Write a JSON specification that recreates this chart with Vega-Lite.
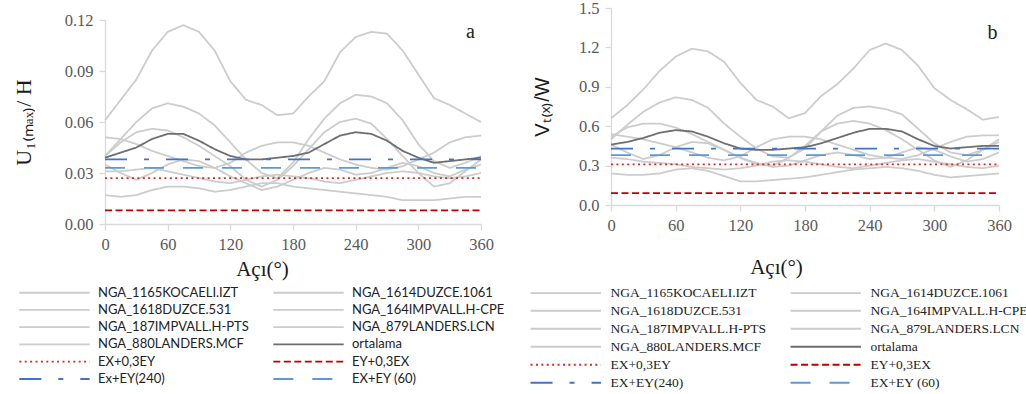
{
"$schema": "https://vega.github.io/schema/vega-lite/v6.json",
"padding": {"left": 12, "top": 0, "right": 0, "bottom": 0},
"background": "white",
"spacing": 27,
"config": {"view": {"stroke": null}, "axis": {"grid": false, "domainColor": "#d9d9d9", "domainWidth": 1.3, "tickColor": "#d9d9d9", "tickWidth": 1.3, "tickSize": 6, "labelFont": "Liberation Serif", "labelFontSize": 16.5, "labelColor": "#595959", "labelPadding": 6, "labelFlush": false, "labelOverlap": false, "titleFontWeight": "normal", "titleColor": "#1a1a1a"}},
"datasets": {
"a": [
{"s":"NGA_1165KOCAELI.IZT","x":0,"y":0.061},{"s":"NGA_1165KOCAELI.IZT","x":15,"y":0.073},{"s":"NGA_1165KOCAELI.IZT","x":30,"y":0.085},{"s":"NGA_1165KOCAELI.IZT","x":45,"y":0.102},{"s":"NGA_1165KOCAELI.IZT","x":60,"y":0.113},{"s":"NGA_1165KOCAELI.IZT","x":75,"y":0.117},{"s":"NGA_1165KOCAELI.IZT","x":90,"y":0.113},{"s":"NGA_1165KOCAELI.IZT","x":105,"y":0.102},{"s":"NGA_1165KOCAELI.IZT","x":120,"y":0.084},{"s":"NGA_1165KOCAELI.IZT","x":135,"y":0.073},{"s":"NGA_1165KOCAELI.IZT","x":150,"y":0.070},{"s":"NGA_1165KOCAELI.IZT","x":165,"y":0.064},{"s":"NGA_1165KOCAELI.IZT","x":180,"y":0.065},{"s":"NGA_1165KOCAELI.IZT","x":195,"y":0.075},{"s":"NGA_1165KOCAELI.IZT","x":210,"y":0.084},{"s":"NGA_1165KOCAELI.IZT","x":225,"y":0.101},{"s":"NGA_1165KOCAELI.IZT","x":240,"y":0.110},{"s":"NGA_1165KOCAELI.IZT","x":255,"y":0.113},{"s":"NGA_1165KOCAELI.IZT","x":270,"y":0.112},{"s":"NGA_1165KOCAELI.IZT","x":285,"y":0.102},{"s":"NGA_1165KOCAELI.IZT","x":300,"y":0.088},{"s":"NGA_1165KOCAELI.IZT","x":315,"y":0.074},{"s":"NGA_1165KOCAELI.IZT","x":330,"y":0.070},{"s":"NGA_1165KOCAELI.IZT","x":345,"y":0.065},{"s":"NGA_1165KOCAELI.IZT","x":360,"y":0.060},
{"s":"NGA_1614DUZCE.1061","x":0,"y":0.040},{"s":"NGA_1614DUZCE.1061","x":15,"y":0.050},{"s":"NGA_1614DUZCE.1061","x":30,"y":0.060},{"s":"NGA_1614DUZCE.1061","x":45,"y":0.068},{"s":"NGA_1614DUZCE.1061","x":60,"y":0.071},{"s":"NGA_1614DUZCE.1061","x":75,"y":0.069},{"s":"NGA_1614DUZCE.1061","x":90,"y":0.065},{"s":"NGA_1614DUZCE.1061","x":105,"y":0.058},{"s":"NGA_1614DUZCE.1061","x":120,"y":0.048},{"s":"NGA_1614DUZCE.1061","x":135,"y":0.038},{"s":"NGA_1614DUZCE.1061","x":150,"y":0.030},{"s":"NGA_1614DUZCE.1061","x":165,"y":0.027},{"s":"NGA_1614DUZCE.1061","x":180,"y":0.036},{"s":"NGA_1614DUZCE.1061","x":195,"y":0.050},{"s":"NGA_1614DUZCE.1061","x":210,"y":0.062},{"s":"NGA_1614DUZCE.1061","x":225,"y":0.071},{"s":"NGA_1614DUZCE.1061","x":240,"y":0.076},{"s":"NGA_1614DUZCE.1061","x":255,"y":0.075},{"s":"NGA_1614DUZCE.1061","x":270,"y":0.071},{"s":"NGA_1614DUZCE.1061","x":285,"y":0.061},{"s":"NGA_1614DUZCE.1061","x":300,"y":0.047},{"s":"NGA_1614DUZCE.1061","x":315,"y":0.037},{"s":"NGA_1614DUZCE.1061","x":330,"y":0.033},{"s":"NGA_1614DUZCE.1061","x":345,"y":0.036},{"s":"NGA_1614DUZCE.1061","x":360,"y":0.040},
{"s":"NGA_1618DUZCE.531","x":0,"y":0.040},{"s":"NGA_1618DUZCE.531","x":15,"y":0.048},{"s":"NGA_1618DUZCE.531","x":30,"y":0.054},{"s":"NGA_1618DUZCE.531","x":45,"y":0.056},{"s":"NGA_1618DUZCE.531","x":60,"y":0.055},{"s":"NGA_1618DUZCE.531","x":75,"y":0.051},{"s":"NGA_1618DUZCE.531","x":90,"y":0.046},{"s":"NGA_1618DUZCE.531","x":105,"y":0.040},{"s":"NGA_1618DUZCE.531","x":120,"y":0.034},{"s":"NGA_1618DUZCE.531","x":135,"y":0.026},{"s":"NGA_1618DUZCE.531","x":150,"y":0.022},{"s":"NGA_1618DUZCE.531","x":165,"y":0.026},{"s":"NGA_1618DUZCE.531","x":180,"y":0.034},{"s":"NGA_1618DUZCE.531","x":195,"y":0.044},{"s":"NGA_1618DUZCE.531","x":210,"y":0.054},{"s":"NGA_1618DUZCE.531","x":225,"y":0.060},{"s":"NGA_1618DUZCE.531","x":240,"y":0.062},{"s":"NGA_1618DUZCE.531","x":255,"y":0.059},{"s":"NGA_1618DUZCE.531","x":270,"y":0.050},{"s":"NGA_1618DUZCE.531","x":285,"y":0.040},{"s":"NGA_1618DUZCE.531","x":300,"y":0.030},{"s":"NGA_1618DUZCE.531","x":315,"y":0.022},{"s":"NGA_1618DUZCE.531","x":330,"y":0.024},{"s":"NGA_1618DUZCE.531","x":345,"y":0.031},{"s":"NGA_1618DUZCE.531","x":360,"y":0.038},
{"s":"NGA_164IMPVALL.H-CPE","x":0,"y":0.051},{"s":"NGA_164IMPVALL.H-CPE","x":15,"y":0.050},{"s":"NGA_164IMPVALL.H-CPE","x":30,"y":0.047},{"s":"NGA_164IMPVALL.H-CPE","x":45,"y":0.043},{"s":"NGA_164IMPVALL.H-CPE","x":60,"y":0.040},{"s":"NGA_164IMPVALL.H-CPE","x":75,"y":0.037},{"s":"NGA_164IMPVALL.H-CPE","x":90,"y":0.034},{"s":"NGA_164IMPVALL.H-CPE","x":105,"y":0.033},{"s":"NGA_164IMPVALL.H-CPE","x":120,"y":0.036},{"s":"NGA_164IMPVALL.H-CPE","x":135,"y":0.042},{"s":"NGA_164IMPVALL.H-CPE","x":150,"y":0.046},{"s":"NGA_164IMPVALL.H-CPE","x":165,"y":0.048},{"s":"NGA_164IMPVALL.H-CPE","x":180,"y":0.048},{"s":"NGA_164IMPVALL.H-CPE","x":195,"y":0.046},{"s":"NGA_164IMPVALL.H-CPE","x":210,"y":0.042},{"s":"NGA_164IMPVALL.H-CPE","x":225,"y":0.038},{"s":"NGA_164IMPVALL.H-CPE","x":240,"y":0.035},{"s":"NGA_164IMPVALL.H-CPE","x":255,"y":0.033},{"s":"NGA_164IMPVALL.H-CPE","x":270,"y":0.032},{"s":"NGA_164IMPVALL.H-CPE","x":285,"y":0.034},{"s":"NGA_164IMPVALL.H-CPE","x":300,"y":0.038},{"s":"NGA_164IMPVALL.H-CPE","x":315,"y":0.042},{"s":"NGA_164IMPVALL.H-CPE","x":330,"y":0.048},{"s":"NGA_164IMPVALL.H-CPE","x":345,"y":0.051},{"s":"NGA_164IMPVALL.H-CPE","x":360,"y":0.052},
{"s":"NGA_187IMPVALL.H-PTS","x":0,"y":0.035},{"s":"NGA_187IMPVALL.H-PTS","x":15,"y":0.030},{"s":"NGA_187IMPVALL.H-PTS","x":30,"y":0.026},{"s":"NGA_187IMPVALL.H-PTS","x":45,"y":0.030},{"s":"NGA_187IMPVALL.H-PTS","x":60,"y":0.035},{"s":"NGA_187IMPVALL.H-PTS","x":75,"y":0.038},{"s":"NGA_187IMPVALL.H-PTS","x":90,"y":0.037},{"s":"NGA_187IMPVALL.H-PTS","x":105,"y":0.033},{"s":"NGA_187IMPVALL.H-PTS","x":120,"y":0.028},{"s":"NGA_187IMPVALL.H-PTS","x":135,"y":0.024},{"s":"NGA_187IMPVALL.H-PTS","x":150,"y":0.020},{"s":"NGA_187IMPVALL.H-PTS","x":165,"y":0.022},{"s":"NGA_187IMPVALL.H-PTS","x":180,"y":0.026},{"s":"NGA_187IMPVALL.H-PTS","x":195,"y":0.030},{"s":"NGA_187IMPVALL.H-PTS","x":210,"y":0.033},{"s":"NGA_187IMPVALL.H-PTS","x":225,"y":0.032},{"s":"NGA_187IMPVALL.H-PTS","x":240,"y":0.029},{"s":"NGA_187IMPVALL.H-PTS","x":255,"y":0.030},{"s":"NGA_187IMPVALL.H-PTS","x":270,"y":0.033},{"s":"NGA_187IMPVALL.H-PTS","x":285,"y":0.036},{"s":"NGA_187IMPVALL.H-PTS","x":300,"y":0.034},{"s":"NGA_187IMPVALL.H-PTS","x":315,"y":0.030},{"s":"NGA_187IMPVALL.H-PTS","x":330,"y":0.028},{"s":"NGA_187IMPVALL.H-PTS","x":345,"y":0.032},{"s":"NGA_187IMPVALL.H-PTS","x":360,"y":0.035},
{"s":"NGA_879LANDERS.LCN","x":0,"y":0.031},{"s":"NGA_879LANDERS.LCN","x":15,"y":0.031},{"s":"NGA_879LANDERS.LCN","x":30,"y":0.032},{"s":"NGA_879LANDERS.LCN","x":45,"y":0.033},{"s":"NGA_879LANDERS.LCN","x":60,"y":0.031},{"s":"NGA_879LANDERS.LCN","x":75,"y":0.029},{"s":"NGA_879LANDERS.LCN","x":90,"y":0.027},{"s":"NGA_879LANDERS.LCN","x":105,"y":0.025},{"s":"NGA_879LANDERS.LCN","x":120,"y":0.024},{"s":"NGA_879LANDERS.LCN","x":135,"y":0.026},{"s":"NGA_879LANDERS.LCN","x":150,"y":0.028},{"s":"NGA_879LANDERS.LCN","x":165,"y":0.029},{"s":"NGA_879LANDERS.LCN","x":180,"y":0.028},{"s":"NGA_879LANDERS.LCN","x":195,"y":0.027},{"s":"NGA_879LANDERS.LCN","x":210,"y":0.025},{"s":"NGA_879LANDERS.LCN","x":225,"y":0.024},{"s":"NGA_879LANDERS.LCN","x":240,"y":0.026},{"s":"NGA_879LANDERS.LCN","x":255,"y":0.028},{"s":"NGA_879LANDERS.LCN","x":270,"y":0.030},{"s":"NGA_879LANDERS.LCN","x":285,"y":0.031},{"s":"NGA_879LANDERS.LCN","x":300,"y":0.030},{"s":"NGA_879LANDERS.LCN","x":315,"y":0.028},{"s":"NGA_879LANDERS.LCN","x":330,"y":0.027},{"s":"NGA_879LANDERS.LCN","x":345,"y":0.028},{"s":"NGA_879LANDERS.LCN","x":360,"y":0.030},
{"s":"NGA_880LANDERS.MCF","x":0,"y":0.017},{"s":"NGA_880LANDERS.MCF","x":15,"y":0.016},{"s":"NGA_880LANDERS.MCF","x":30,"y":0.017},{"s":"NGA_880LANDERS.MCF","x":45,"y":0.020},{"s":"NGA_880LANDERS.MCF","x":60,"y":0.022},{"s":"NGA_880LANDERS.MCF","x":75,"y":0.022},{"s":"NGA_880LANDERS.MCF","x":90,"y":0.021},{"s":"NGA_880LANDERS.MCF","x":105,"y":0.019},{"s":"NGA_880LANDERS.MCF","x":120,"y":0.020},{"s":"NGA_880LANDERS.MCF","x":135,"y":0.022},{"s":"NGA_880LANDERS.MCF","x":150,"y":0.024},{"s":"NGA_880LANDERS.MCF","x":165,"y":0.024},{"s":"NGA_880LANDERS.MCF","x":180,"y":0.022},{"s":"NGA_880LANDERS.MCF","x":195,"y":0.021},{"s":"NGA_880LANDERS.MCF","x":210,"y":0.020},{"s":"NGA_880LANDERS.MCF","x":225,"y":0.019},{"s":"NGA_880LANDERS.MCF","x":240,"y":0.018},{"s":"NGA_880LANDERS.MCF","x":255,"y":0.017},{"s":"NGA_880LANDERS.MCF","x":270,"y":0.016},{"s":"NGA_880LANDERS.MCF","x":285,"y":0.014},{"s":"NGA_880LANDERS.MCF","x":300,"y":0.014},{"s":"NGA_880LANDERS.MCF","x":315,"y":0.014},{"s":"NGA_880LANDERS.MCF","x":330,"y":0.015},{"s":"NGA_880LANDERS.MCF","x":345,"y":0.016},{"s":"NGA_880LANDERS.MCF","x":360,"y":0.016},
{"s":"ortalama","x":0,"y":0.039},{"s":"ortalama","x":15,"y":0.042},{"s":"ortalama","x":30,"y":0.045},{"s":"ortalama","x":45,"y":0.050},{"s":"ortalama","x":60,"y":0.053},{"s":"ortalama","x":75,"y":0.053},{"s":"ortalama","x":90,"y":0.049},{"s":"ortalama","x":105,"y":0.044},{"s":"ortalama","x":120,"y":0.040},{"s":"ortalama","x":135,"y":0.038},{"s":"ortalama","x":150,"y":0.038},{"s":"ortalama","x":165,"y":0.039},{"s":"ortalama","x":180,"y":0.040},{"s":"ortalama","x":195,"y":0.042},{"s":"ortalama","x":210,"y":0.047},{"s":"ortalama","x":225,"y":0.052},{"s":"ortalama","x":240,"y":0.054},{"s":"ortalama","x":255,"y":0.053},{"s":"ortalama","x":270,"y":0.049},{"s":"ortalama","x":285,"y":0.043},{"s":"ortalama","x":300,"y":0.039},{"s":"ortalama","x":315,"y":0.036},{"s":"ortalama","x":330,"y":0.037},{"s":"ortalama","x":345,"y":0.038},{"s":"ortalama","x":360,"y":0.039},
{"s":"EX+0,3EY","x":0,"y":0.027},{"s":"EX+0,3EY","x":360,"y":0.027},
{"s":"EY+0,3EX","x":0,"y":0.008},{"s":"EY+0,3EX","x":360,"y":0.008},
{"s":"EX+EY (60)","x":0,"y":0.033},{"s":"EX+EY (60)","x":360,"y":0.033},
{"s":"Ex+EY(240)","x":0,"y":0.038},{"s":"Ex+EY(240)","x":360,"y":0.038}
],
"b": [
{"s":"NGA_1165KOCAELI.IZT","x":0,"y":0.66},{"s":"NGA_1165KOCAELI.IZT","x":15,"y":0.76},{"s":"NGA_1165KOCAELI.IZT","x":30,"y":0.88},{"s":"NGA_1165KOCAELI.IZT","x":45,"y":1.02},{"s":"NGA_1165KOCAELI.IZT","x":60,"y":1.13},{"s":"NGA_1165KOCAELI.IZT","x":75,"y":1.19},{"s":"NGA_1165KOCAELI.IZT","x":90,"y":1.17},{"s":"NGA_1165KOCAELI.IZT","x":105,"y":1.09},{"s":"NGA_1165KOCAELI.IZT","x":120,"y":0.93},{"s":"NGA_1165KOCAELI.IZT","x":135,"y":0.80},{"s":"NGA_1165KOCAELI.IZT","x":150,"y":0.75},{"s":"NGA_1165KOCAELI.IZT","x":165,"y":0.66},{"s":"NGA_1165KOCAELI.IZT","x":180,"y":0.70},{"s":"NGA_1165KOCAELI.IZT","x":195,"y":0.83},{"s":"NGA_1165KOCAELI.IZT","x":210,"y":0.92},{"s":"NGA_1165KOCAELI.IZT","x":225,"y":1.04},{"s":"NGA_1165KOCAELI.IZT","x":240,"y":1.18},{"s":"NGA_1165KOCAELI.IZT","x":255,"y":1.23},{"s":"NGA_1165KOCAELI.IZT","x":270,"y":1.18},{"s":"NGA_1165KOCAELI.IZT","x":285,"y":1.06},{"s":"NGA_1165KOCAELI.IZT","x":300,"y":0.89},{"s":"NGA_1165KOCAELI.IZT","x":315,"y":0.80},{"s":"NGA_1165KOCAELI.IZT","x":330,"y":0.73},{"s":"NGA_1165KOCAELI.IZT","x":345,"y":0.65},{"s":"NGA_1165KOCAELI.IZT","x":360,"y":0.67},
{"s":"NGA_1614DUZCE.1061","x":0,"y":0.50},{"s":"NGA_1614DUZCE.1061","x":15,"y":0.61},{"s":"NGA_1614DUZCE.1061","x":30,"y":0.71},{"s":"NGA_1614DUZCE.1061","x":45,"y":0.78},{"s":"NGA_1614DUZCE.1061","x":60,"y":0.82},{"s":"NGA_1614DUZCE.1061","x":75,"y":0.80},{"s":"NGA_1614DUZCE.1061","x":90,"y":0.74},{"s":"NGA_1614DUZCE.1061","x":105,"y":0.62},{"s":"NGA_1614DUZCE.1061","x":120,"y":0.52},{"s":"NGA_1614DUZCE.1061","x":135,"y":0.43},{"s":"NGA_1614DUZCE.1061","x":150,"y":0.37},{"s":"NGA_1614DUZCE.1061","x":165,"y":0.36},{"s":"NGA_1614DUZCE.1061","x":180,"y":0.43},{"s":"NGA_1614DUZCE.1061","x":195,"y":0.56},{"s":"NGA_1614DUZCE.1061","x":210,"y":0.68},{"s":"NGA_1614DUZCE.1061","x":225,"y":0.74},{"s":"NGA_1614DUZCE.1061","x":240,"y":0.75},{"s":"NGA_1614DUZCE.1061","x":255,"y":0.73},{"s":"NGA_1614DUZCE.1061","x":270,"y":0.69},{"s":"NGA_1614DUZCE.1061","x":285,"y":0.58},{"s":"NGA_1614DUZCE.1061","x":300,"y":0.47},{"s":"NGA_1614DUZCE.1061","x":315,"y":0.40},{"s":"NGA_1614DUZCE.1061","x":330,"y":0.38},{"s":"NGA_1614DUZCE.1061","x":345,"y":0.42},{"s":"NGA_1614DUZCE.1061","x":360,"y":0.48},
{"s":"NGA_1618DUZCE.531","x":0,"y":0.52},{"s":"NGA_1618DUZCE.531","x":15,"y":0.59},{"s":"NGA_1618DUZCE.531","x":30,"y":0.62},{"s":"NGA_1618DUZCE.531","x":45,"y":0.62},{"s":"NGA_1618DUZCE.531","x":60,"y":0.59},{"s":"NGA_1618DUZCE.531","x":75,"y":0.54},{"s":"NGA_1618DUZCE.531","x":90,"y":0.48},{"s":"NGA_1618DUZCE.531","x":105,"y":0.42},{"s":"NGA_1618DUZCE.531","x":120,"y":0.36},{"s":"NGA_1618DUZCE.531","x":135,"y":0.31},{"s":"NGA_1618DUZCE.531","x":150,"y":0.30},{"s":"NGA_1618DUZCE.531","x":165,"y":0.36},{"s":"NGA_1618DUZCE.531","x":180,"y":0.45},{"s":"NGA_1618DUZCE.531","x":195,"y":0.56},{"s":"NGA_1618DUZCE.531","x":210,"y":0.62},{"s":"NGA_1618DUZCE.531","x":225,"y":0.64},{"s":"NGA_1618DUZCE.531","x":240,"y":0.62},{"s":"NGA_1618DUZCE.531","x":255,"y":0.57},{"s":"NGA_1618DUZCE.531","x":270,"y":0.50},{"s":"NGA_1618DUZCE.531","x":285,"y":0.42},{"s":"NGA_1618DUZCE.531","x":300,"y":0.34},{"s":"NGA_1618DUZCE.531","x":315,"y":0.29},{"s":"NGA_1618DUZCE.531","x":330,"y":0.34},{"s":"NGA_1618DUZCE.531","x":345,"y":0.42},{"s":"NGA_1618DUZCE.531","x":360,"y":0.50},
{"s":"NGA_164IMPVALL.H-CPE","x":0,"y":0.54},{"s":"NGA_164IMPVALL.H-CPE","x":15,"y":0.52},{"s":"NGA_164IMPVALL.H-CPE","x":30,"y":0.50},{"s":"NGA_164IMPVALL.H-CPE","x":45,"y":0.47},{"s":"NGA_164IMPVALL.H-CPE","x":60,"y":0.44},{"s":"NGA_164IMPVALL.H-CPE","x":75,"y":0.40},{"s":"NGA_164IMPVALL.H-CPE","x":90,"y":0.36},{"s":"NGA_164IMPVALL.H-CPE","x":105,"y":0.34},{"s":"NGA_164IMPVALL.H-CPE","x":120,"y":0.37},{"s":"NGA_164IMPVALL.H-CPE","x":135,"y":0.44},{"s":"NGA_164IMPVALL.H-CPE","x":150,"y":0.50},{"s":"NGA_164IMPVALL.H-CPE","x":165,"y":0.52},{"s":"NGA_164IMPVALL.H-CPE","x":180,"y":0.52},{"s":"NGA_164IMPVALL.H-CPE","x":195,"y":0.50},{"s":"NGA_164IMPVALL.H-CPE","x":210,"y":0.46},{"s":"NGA_164IMPVALL.H-CPE","x":225,"y":0.42},{"s":"NGA_164IMPVALL.H-CPE","x":240,"y":0.38},{"s":"NGA_164IMPVALL.H-CPE","x":255,"y":0.36},{"s":"NGA_164IMPVALL.H-CPE","x":270,"y":0.35},{"s":"NGA_164IMPVALL.H-CPE","x":285,"y":0.38},{"s":"NGA_164IMPVALL.H-CPE","x":300,"y":0.43},{"s":"NGA_164IMPVALL.H-CPE","x":315,"y":0.48},{"s":"NGA_164IMPVALL.H-CPE","x":330,"y":0.52},{"s":"NGA_164IMPVALL.H-CPE","x":345,"y":0.53},{"s":"NGA_164IMPVALL.H-CPE","x":360,"y":0.53},
{"s":"NGA_187IMPVALL.H-PTS","x":0,"y":0.46},{"s":"NGA_187IMPVALL.H-PTS","x":15,"y":0.40},{"s":"NGA_187IMPVALL.H-PTS","x":30,"y":0.35},{"s":"NGA_187IMPVALL.H-PTS","x":45,"y":0.38},{"s":"NGA_187IMPVALL.H-PTS","x":60,"y":0.44},{"s":"NGA_187IMPVALL.H-PTS","x":75,"y":0.48},{"s":"NGA_187IMPVALL.H-PTS","x":90,"y":0.47},{"s":"NGA_187IMPVALL.H-PTS","x":105,"y":0.42},{"s":"NGA_187IMPVALL.H-PTS","x":120,"y":0.36},{"s":"NGA_187IMPVALL.H-PTS","x":135,"y":0.32},{"s":"NGA_187IMPVALL.H-PTS","x":150,"y":0.29},{"s":"NGA_187IMPVALL.H-PTS","x":165,"y":0.30},{"s":"NGA_187IMPVALL.H-PTS","x":180,"y":0.34},{"s":"NGA_187IMPVALL.H-PTS","x":195,"y":0.38},{"s":"NGA_187IMPVALL.H-PTS","x":210,"y":0.40},{"s":"NGA_187IMPVALL.H-PTS","x":225,"y":0.38},{"s":"NGA_187IMPVALL.H-PTS","x":240,"y":0.35},{"s":"NGA_187IMPVALL.H-PTS","x":255,"y":0.36},{"s":"NGA_187IMPVALL.H-PTS","x":270,"y":0.40},{"s":"NGA_187IMPVALL.H-PTS","x":285,"y":0.44},{"s":"NGA_187IMPVALL.H-PTS","x":300,"y":0.42},{"s":"NGA_187IMPVALL.H-PTS","x":315,"y":0.37},{"s":"NGA_187IMPVALL.H-PTS","x":330,"y":0.33},{"s":"NGA_187IMPVALL.H-PTS","x":345,"y":0.35},{"s":"NGA_187IMPVALL.H-PTS","x":360,"y":0.40},
{"s":"NGA_879LANDERS.LCN","x":0,"y":0.36},{"s":"NGA_879LANDERS.LCN","x":15,"y":0.35},{"s":"NGA_879LANDERS.LCN","x":30,"y":0.33},{"s":"NGA_879LANDERS.LCN","x":45,"y":0.32},{"s":"NGA_879LANDERS.LCN","x":60,"y":0.31},{"s":"NGA_879LANDERS.LCN","x":75,"y":0.29},{"s":"NGA_879LANDERS.LCN","x":90,"y":0.28},{"s":"NGA_879LANDERS.LCN","x":105,"y":0.27},{"s":"NGA_879LANDERS.LCN","x":120,"y":0.28},{"s":"NGA_879LANDERS.LCN","x":135,"y":0.30},{"s":"NGA_879LANDERS.LCN","x":150,"y":0.33},{"s":"NGA_879LANDERS.LCN","x":165,"y":0.34},{"s":"NGA_879LANDERS.LCN","x":180,"y":0.33},{"s":"NGA_879LANDERS.LCN","x":195,"y":0.31},{"s":"NGA_879LANDERS.LCN","x":210,"y":0.29},{"s":"NGA_879LANDERS.LCN","x":225,"y":0.28},{"s":"NGA_879LANDERS.LCN","x":240,"y":0.30},{"s":"NGA_879LANDERS.LCN","x":255,"y":0.32},{"s":"NGA_879LANDERS.LCN","x":270,"y":0.34},{"s":"NGA_879LANDERS.LCN","x":285,"y":0.35},{"s":"NGA_879LANDERS.LCN","x":300,"y":0.33},{"s":"NGA_879LANDERS.LCN","x":315,"y":0.31},{"s":"NGA_879LANDERS.LCN","x":330,"y":0.29},{"s":"NGA_879LANDERS.LCN","x":345,"y":0.28},{"s":"NGA_879LANDERS.LCN","x":360,"y":0.30},
{"s":"NGA_880LANDERS.MCF","x":0,"y":0.24},{"s":"NGA_880LANDERS.MCF","x":15,"y":0.23},{"s":"NGA_880LANDERS.MCF","x":30,"y":0.23},{"s":"NGA_880LANDERS.MCF","x":45,"y":0.24},{"s":"NGA_880LANDERS.MCF","x":60,"y":0.27},{"s":"NGA_880LANDERS.MCF","x":75,"y":0.28},{"s":"NGA_880LANDERS.MCF","x":90,"y":0.26},{"s":"NGA_880LANDERS.MCF","x":105,"y":0.22},{"s":"NGA_880LANDERS.MCF","x":120,"y":0.18},{"s":"NGA_880LANDERS.MCF","x":135,"y":0.18},{"s":"NGA_880LANDERS.MCF","x":150,"y":0.19},{"s":"NGA_880LANDERS.MCF","x":165,"y":0.20},{"s":"NGA_880LANDERS.MCF","x":180,"y":0.21},{"s":"NGA_880LANDERS.MCF","x":195,"y":0.23},{"s":"NGA_880LANDERS.MCF","x":210,"y":0.25},{"s":"NGA_880LANDERS.MCF","x":225,"y":0.27},{"s":"NGA_880LANDERS.MCF","x":240,"y":0.28},{"s":"NGA_880LANDERS.MCF","x":255,"y":0.29},{"s":"NGA_880LANDERS.MCF","x":270,"y":0.28},{"s":"NGA_880LANDERS.MCF","x":285,"y":0.26},{"s":"NGA_880LANDERS.MCF","x":300,"y":0.23},{"s":"NGA_880LANDERS.MCF","x":315,"y":0.21},{"s":"NGA_880LANDERS.MCF","x":330,"y":0.22},{"s":"NGA_880LANDERS.MCF","x":345,"y":0.23},{"s":"NGA_880LANDERS.MCF","x":360,"y":0.24},
{"s":"ortalama","x":0,"y":0.46},{"s":"ortalama","x":15,"y":0.48},{"s":"ortalama","x":30,"y":0.51},{"s":"ortalama","x":45,"y":0.55},{"s":"ortalama","x":60,"y":0.57},{"s":"ortalama","x":75,"y":0.56},{"s":"ortalama","x":90,"y":0.52},{"s":"ortalama","x":105,"y":0.47},{"s":"ortalama","x":120,"y":0.43},{"s":"ortalama","x":135,"y":0.42},{"s":"ortalama","x":150,"y":0.42},{"s":"ortalama","x":165,"y":0.43},{"s":"ortalama","x":180,"y":0.44},{"s":"ortalama","x":195,"y":0.47},{"s":"ortalama","x":210,"y":0.51},{"s":"ortalama","x":225,"y":0.55},{"s":"ortalama","x":240,"y":0.58},{"s":"ortalama","x":255,"y":0.58},{"s":"ortalama","x":270,"y":0.56},{"s":"ortalama","x":285,"y":0.50},{"s":"ortalama","x":300,"y":0.45},{"s":"ortalama","x":315,"y":0.43},{"s":"ortalama","x":330,"y":0.44},{"s":"ortalama","x":345,"y":0.45},{"s":"ortalama","x":360,"y":0.45},
{"s":"EX+0,3EY","x":0,"y":0.31},{"s":"EX+0,3EY","x":360,"y":0.31},
{"s":"EY+0,3EX","x":0,"y":0.09},{"s":"EY+0,3EX","x":360,"y":0.09},
{"s":"EX+EY (60)","x":0,"y":0.38},{"s":"EX+EY (60)","x":360,"y":0.38},
{"s":"EX+EY(240)","x":0,"y":0.43},{"s":"EX+EY(240)","x":360,"y":0.43}
]
},
"hconcat": [
{
"width": 376, "height": 216,
"layer": [
{"data": {"name": "a"},
"mark": {"type": "line", "strokeCap": "butt", "strokeJoin": "round"},
"encoding": {
"x": {"field": "x", "type": "quantitative", "scale": {"domain": [0, 360], "nice": false}, "axis": {"values": [0, 60, 120, 180, 240, 300, 360], "tickCount": 10, "labelOverlap": false, "title": "Açı(°)", "titleFont": "Liberation Serif", "titleFontSize": 21, "titlePadding": 6, "titleX": 157}},
"y": {"field": "y", "type": "quantitative", "scale": {"domain": [0, 0.12], "nice": false, "range": [216, 12]}, "axis": {"values": [0, 0.03, 0.06, 0.09, 0.12], "tickCount": 10, "labelOverlap": false, "format": ".2f", "title": "U₁₍ₘₐₓ₎/ H", "titleFont": "Liberation Serif", "titleFontSize": 22, "titlePadding": 29}},
"stroke": {"field": "s", "type": "nominal",
"scale": {"domain": ["NGA_1165KOCAELI.IZT", "NGA_1618DUZCE.531", "NGA_187IMPVALL.H-PTS", "NGA_880LANDERS.MCF", "EX+0,3EY", "Ex+EY(240)", "NGA_1614DUZCE.1061", "NGA_164IMPVALL.H-CPE", "NGA_879LANDERS.LCN", "ortalama", "EY+0,3EX", "EX+EY (60)"],
"range": ["#cccccc", "#cccccc", "#cccccc", "#cccccc", "#d42a2a", "#4472c4", "#cccccc", "#cccccc", "#cccccc", "#6e6e6e", "#c00000", "#5b9bd5"]},
"legend": {"orient": "none", "legendX": -57, "legendY": 278, "columns": 2, "columnPadding": 20, "rowPadding": 3.3, "padding": 0, "symbolType": "M-6.4,0H6.4", "symbolSize": 121, "labelOffset": 37, "labelFont": "Lato", "labelFontSize": 13, "labelColor": "#222222", "labelLimit": 400, "title": null}},
"strokeDash": {"field": "s", "type": "nominal",
"scale": {"domain": ["NGA_1165KOCAELI.IZT", "NGA_1618DUZCE.531", "NGA_187IMPVALL.H-PTS", "NGA_880LANDERS.MCF", "EX+0,3EY", "Ex+EY(240)", "NGA_1614DUZCE.1061", "NGA_164IMPVALL.H-CPE", "NGA_879LANDERS.LCN", "ortalama", "EY+0,3EX", "EX+EY (60)"],
"range": [[1, 0], [1, 0], [1, 0], [1, 0], [2, 3.4], [22, 17, 5, 17], [1, 0], [1, 0], [1, 0], [1, 0], [7, 3.5], [20, 19]]},
"legend": {"orient": "none", "legendX": -57, "legendY": 278, "columns": 2, "columnPadding": 20, "rowPadding": 3.3, "padding": 0, "symbolType": "M-6.4,0H6.4", "symbolSize": 121, "labelOffset": 37, "labelFont": "Lato", "labelFontSize": 13, "labelColor": "#222222", "labelLimit": 400, "title": null}},
"strokeWidth": {"field": "s", "type": "nominal",
"scale": {"domain": ["NGA_1165KOCAELI.IZT", "NGA_1618DUZCE.531", "NGA_187IMPVALL.H-PTS", "NGA_880LANDERS.MCF", "EX+0,3EY", "Ex+EY(240)", "NGA_1614DUZCE.1061", "NGA_164IMPVALL.H-CPE", "NGA_879LANDERS.LCN", "ortalama", "EY+0,3EX", "EX+EY (60)"],
"range": [1.8, 1.8, 1.8, 1.8, 2, 5, 1.8, 1.8, 1.8, 2.5, 2.5, 5]},
"legend": {"orient": "none", "legendX": -57, "legendY": 278, "columns": 2, "columnPadding": 20, "rowPadding": 3.3, "padding": 0, "symbolType": "M-6.4,0H6.4", "symbolSize": 121, "labelOffset": 37, "labelFont": "Lato", "labelFontSize": 13, "labelColor": "#222222", "labelLimit": 400, "title": null}}
}},
{"data": {"values": [{}]},
"mark": {"type": "text", "text": "a", "font": "Liberation Serif", "fontSize": 20, "color": "#222222", "baseline": "middle", "align": "center"},
"encoding": {"x": {"datum": 350}, "y": {"datum": 0.113}}}
]
},
{
"width": 388, "height": 197,
"layer": [
{"data": {"name": "b"},
"mark": {"type": "line", "strokeCap": "butt", "strokeJoin": "round"},
"encoding": {
"x": {"field": "x", "type": "quantitative", "scale": {"domain": [0, 360], "nice": false}, "axis": {"values": [0, 60, 120, 180, 240, 300, 360], "tickCount": 10, "labelOverlap": false, "title": "Açı(°)", "titleFont": "Liberation Serif", "titleFontSize": 21, "titlePadding": 23, "titleX": 165}},
"y": {"field": "y", "type": "quantitative", "scale": {"domain": [0, 1.5], "nice": false}, "axis": {"values": [0, 0.3, 0.6, 0.9, 1.2, 1.5], "tickCount": 10, "labelOverlap": false, "format": ".1f", "title": "Vₜ₍ₓ₎/W", "titleFont": "Liberation Sans", "titleFontSize": 20, "titlePadding": 26}},
"stroke": {"field": "s", "type": "nominal",
"scale": {"domain": ["NGA_1165KOCAELI.IZT", "NGA_1618DUZCE.531", "NGA_187IMPVALL.H-PTS", "NGA_880LANDERS.MCF", "EX+0,3EY", "EX+EY(240)", "NGA_1614DUZCE.1061", "NGA_164IMPVALL.H-CPE", "NGA_879LANDERS.LCN", "ortalama", "EY+0,3EX", "EX+EY (60)"],
"range": ["#cccccc", "#cccccc", "#cccccc", "#cccccc", "#d42a2a", "#4472c4", "#cccccc", "#cccccc", "#cccccc", "#6e6e6e", "#c00000", "#5b9bd5"]},
"legend": {"orient": "none", "legendX": -52, "legendY": 278, "columns": 2, "columnPadding": 20, "rowPadding": 3, "padding": 0, "symbolType": "M-6.4,0H6.4", "symbolSize": 121, "labelOffset": 38, "labelFont": "Liberation Serif", "labelFontSize": 13.5, "labelColor": "#222222", "labelLimit": 400, "title": null}},
"strokeDash": {"field": "s", "type": "nominal",
"scale": {"domain": ["NGA_1165KOCAELI.IZT", "NGA_1618DUZCE.531", "NGA_187IMPVALL.H-PTS", "NGA_880LANDERS.MCF", "EX+0,3EY", "EX+EY(240)", "NGA_1614DUZCE.1061", "NGA_164IMPVALL.H-CPE", "NGA_879LANDERS.LCN", "ortalama", "EY+0,3EX", "EX+EY (60)"],
"range": [[1, 0], [1, 0], [1, 0], [1, 0], [2, 3.4], [22, 17, 5, 17], [1, 0], [1, 0], [1, 0], [1, 0], [7, 3.5], [20, 19]]},
"legend": {"orient": "none", "legendX": -52, "legendY": 278, "columns": 2, "columnPadding": 20, "rowPadding": 3, "padding": 0, "symbolType": "M-6.4,0H6.4", "symbolSize": 121, "labelOffset": 38, "labelFont": "Liberation Serif", "labelFontSize": 13.5, "labelColor": "#222222", "labelLimit": 400, "title": null}},
"strokeWidth": {"field": "s", "type": "nominal",
"scale": {"domain": ["NGA_1165KOCAELI.IZT", "NGA_1618DUZCE.531", "NGA_187IMPVALL.H-PTS", "NGA_880LANDERS.MCF", "EX+0,3EY", "EX+EY(240)", "NGA_1614DUZCE.1061", "NGA_164IMPVALL.H-CPE", "NGA_879LANDERS.LCN", "ortalama", "EY+0,3EX", "EX+EY (60)"],
"range": [1.8, 1.8, 1.8, 1.8, 2, 5, 1.8, 1.8, 1.8, 2.5, 2.5, 5]},
"legend": {"orient": "none", "legendX": -52, "legendY": 278, "columns": 2, "columnPadding": 20, "rowPadding": 3, "padding": 0, "symbolType": "M-6.4,0H6.4", "symbolSize": 121, "labelOffset": 38, "labelFont": "Liberation Serif", "labelFontSize": 13.5, "labelColor": "#222222", "labelLimit": 400, "title": null}}
}},
{"data": {"values": [{}]},
"mark": {"type": "text", "text": "b", "font": "Liberation Serif", "fontSize": 20, "color": "#222222", "baseline": "middle", "align": "center"},
"encoding": {"x": {"datum": 354}, "y": {"datum": 1.31}}}
]
}
],
"resolve": {"scale": {"x": "independent", "y": "independent", "stroke": "independent", "strokeDash": "independent", "strokeWidth": "independent"}}
}
